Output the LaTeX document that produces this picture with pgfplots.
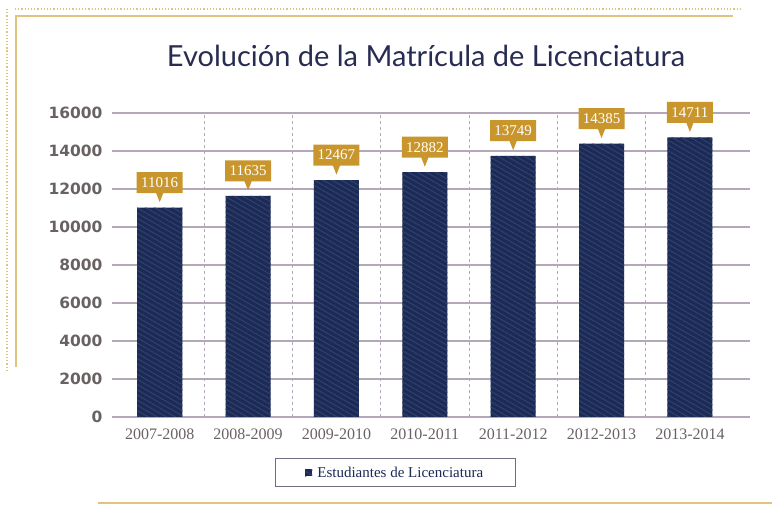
\documentclass[border=0pt]{standalone}
\usepackage{fontspec}
\usepackage{pgfplots}
\pgfplotsset{compat=1.18}
\usetikzlibrary{shapes.callouts, patterns.meta}
\setmainfont{Liberation Serif}
\newfontfamily\titlefont{Lato}
\newfontfamily\tickfont{DejaVu Sans}
\definecolor{navy}{RGB}{28,42,86}
\definecolor{stripe}{RGB}{48,64,108}
\definecolor{gold}{RGB}{200,150,45}
\definecolor{lightgold}{RGB}{225,195,125}
\definecolor{gridc}{RGB}{178,168,184}
\definecolor{ticktext}{RGB}{105,98,98}
\definecolor{titlec}{RGB}{40,44,82}
\definecolor{legborder}{RGB}{110,110,130}

\pgfplotstableread{
x val
0 11016
1 11635
2 12467
3 12882
4 13749
5 14385
6 14711
}\matricula

\begin{document}
\begin{tikzpicture}
\useasboundingbox (0,0) rectangle (772bp,508bp);
% marco dorado
\draw[lightgold, line width=1.2bp, dotted] (15bp,499bp) -- (740bp,499bp);
\draw[lightgold, line width=1.6bp] (15bp,492bp) -- (733bp,492bp);
\draw[lightgold, line width=1.2bp, dotted] (7bp,499bp) -- (7bp,138bp);
\draw[lightgold, line width=1.6bp] (16bp,492bp) -- (16bp,141bp);
\draw[lightgold, line width=2.5bp] (98bp,5bp) -- (772bp,5bp);

\node[anchor=base, text=titlec, font=\titlefont\fontsize{29bp}{32bp}\selectfont]
  at (426bp,441bp) {Evolución de la Matrícula de Licenciatura};

\begin{axis}[
    at={(112bp,91bp)}, anchor=south west,
    scale only axis,
    width=638bp, height=304bp,
    xmin=-0.54, xmax=6.68,
    ymin=0, ymax=16000,
    ytick={0,2000,...,16000},
    scaled y ticks=false,
    xtick={0,...,6},
    xticklabels={2007-2008,2008-2009,2009-2010,2010-2011,2011-2012,2012-2013,2013-2014},
    extra x ticks={0.5,1.5,...,5.5},
    extra x tick labels={},
    extra x tick style={grid=major, major grid style={gridc, dashed, line width=0.8bp}},
    ymajorgrids,
    major grid style={gridc, line width=1.3bp},
    axis line style={draw=none},
    tick style={draw=none},
    /pgf/number format/1000 sep={},
    /pgf/number format/assume math mode=true,
    yticklabel style={font=\tickfont\bfseries\fontsize{15.5bp}{17bp}\selectfont, text=ticktext, xshift=-6bp},
    xticklabel style={font=\fontsize{16bp}{18bp}\selectfont, text=ticktext, yshift=-4bp},
    ybar, bar width=0.51,
    nodes near coords,
    every node near coord/.append style={
        font=\fontsize{15bp}{17bp}\selectfont, text=white, fill=gold,
        rectangle callout, callout relative pointer={(0bp,-9bp)},
        anchor=pointer, yshift=5bp,
        minimum width=46bp, minimum height=21bp, inner sep=2bp},
    legend style={at={(0.444,-0.183)}, anchor=center,
        draw=legborder, line width=1bp, fill=white,
        inner xsep=30bp, inner ysep=6bp,
        font=\fontsize{15bp}{17bp}\selectfont, text=navy},
    legend image code/.code={\fill[navy] (0bp,-3.5bp) rectangle (7bp,3.5bp);},
    legend cell align=left,
]
\addplot[fill=navy, draw=none,
    postaction={pattern={Lines[angle=-30,distance=4.5bp,line width=1.1bp]}, pattern color=stripe}]
    table[x=x, y=val] {\matricula};
\addlegendentry{\hspace{3bp}Estudiantes de Licenciatura}
\end{axis}
\end{tikzpicture}
\end{document}
